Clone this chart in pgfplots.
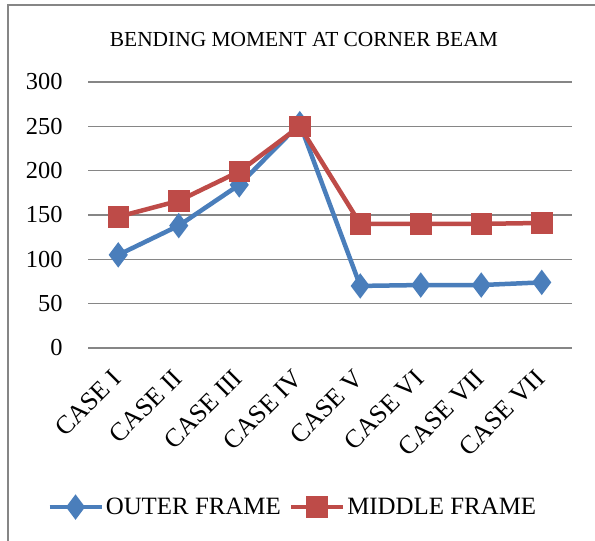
\documentclass[border=0pt]{standalone}
\usepackage{pgfplots}
\pgfplotsset{compat=1.18}
\usepackage{fontspec}
\setmainfont{Liberation Serif}
\definecolor{outerc}{HTML}{4A7EBB}
\definecolor{middlec}{HTML}{BE4B48}
\definecolor{gridc}{HTML}{868686}
\begin{document}
\begin{tikzpicture}[x=1bp,y=1bp]
\useasboundingbox (0,0) rectangle (595,541);
\draw[gridc, line width=1.2bp] (8,0) -- (8,536) -- (595,536);
\begin{axis}[
  at={(88bp,193bp)}, anchor=south west,
  scale only axis, width=484bp, height=266bp,
  xmin=-0.5, xmax=7.5, ymin=0, ymax=300,
  ytick={0,50,...,300},
  xtick={0,...,7},
  xticklabels={CASE I,CASE II,CASE III,CASE IV,CASE V,CASE VI,CASE VII,CASE VII},
  axis x line*=bottom, axis y line*=left,
  x axis line style={gridc, line width=1.5bp, -},
  y axis line style={draw=none},
  ymajorgrids, grid style={gridc, line width=1.5bp},
  major tick length=0pt,
  yticklabel style={font=\fontsize{24.5}{27}\selectfont, anchor=east, xshift=-22bp},
  xticklabel style={font=\fontsize{26}{29}\selectfont, xshift=1bp, yshift=-24bp, rotate=45, anchor=east},
  /pgf/number format/assume math mode=true,
  clip=false,
  legend style={at={(0.423,-0.598)}, anchor=center, draw=none, legend columns=2,
    font=\fontsize{25}{28}\selectfont, /tikz/every even column/.append style={column sep=6bp}},
  legend image code/.code={\draw[#1, mark repeat=2, mark phase=2] plot coordinates {(0bp,0bp) (26bp,0bp) (52bp,0bp)};},
]
\addplot[outerc, line width=4.5bp, mark=diamond*, mark size=9bp, mark options={solid}] coordinates {
(0,105) (1,138) (2,184) (3,253) (4,70) (5,71) (6,71) (7,74)};
\addlegendentry{OUTER FRAME}
\addplot[middlec, line width=4.5bp, mark=square*, mark size=8.5bp] coordinates {
(0,148) (1,166) (2,199) (3,250) (4,140) (5,140) (6,140) (7,141)};
\addlegendentry{MIDDLE FRAME}
\node[font=\fontsize{21.5}{24}\selectfont] at (rel axis cs:0.446,1.158) {BENDING MOMENT AT CORNER BEAM};
\end{axis}
\end{tikzpicture}
\end{document}
